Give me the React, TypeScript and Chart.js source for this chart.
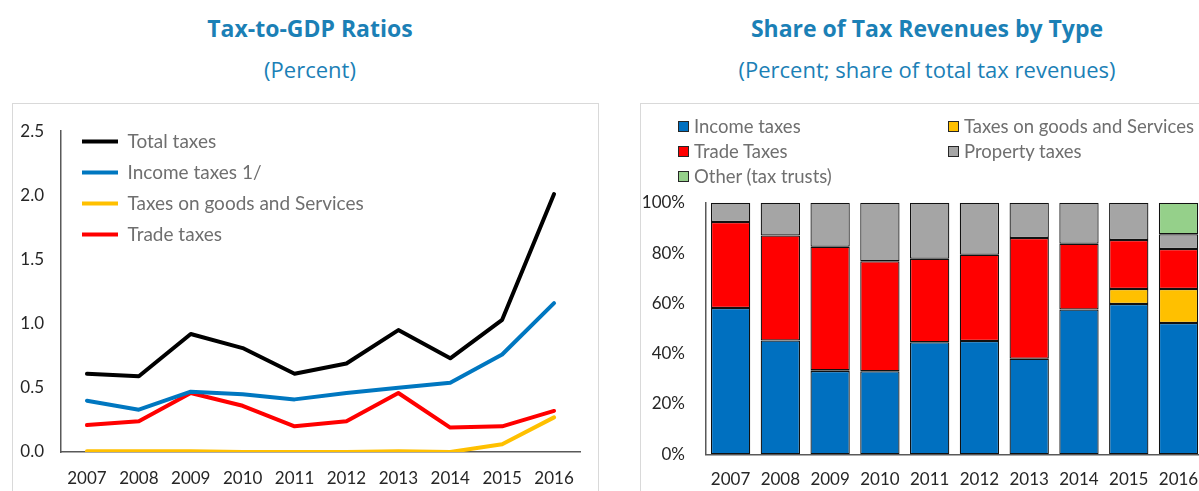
import React, { useEffect, useRef } from 'react';
import { Chart, registerables } from 'chart.js';

Chart.register(...registerables);

// ---------- data ----------
const years = ['2007', '2008', '2009', '2010', '2011', '2012', '2013', '2014', '2015', '2016'];

// Left chart: Tax-to-GDP ratios (percent)
const totalTaxes = [0.61, 0.59, 0.92, 0.81, 0.61, 0.69, 0.95, 0.73, 1.03, 2.01];
const incomeTaxesGdp = [0.40, 0.33, 0.47, 0.45, 0.41, 0.46, 0.50, 0.54, 0.76, 1.16];
const goodsTaxesGdp = [0.005, 0.005, 0.005, 0.0, 0.0, 0.0, 0.005, 0.0, 0.06, 0.27];
const tradeTaxesGdp = [0.21, 0.24, 0.46, 0.36, 0.20, 0.24, 0.46, 0.19, 0.20, 0.32];
const gdpTicks = [0, 0.5, 1.0, 1.5, 2.0, 2.5];

// Right chart: share of total tax revenues (percent)
const incomeShare = [58.1, 45.2, 33.1, 33.0, 44.5, 45.0, 38.0, 57.6, 59.7, 52.2];
const goodsShare = [0, 0, 0.3, 0, 0, 0, 0, 0, 6.0, 13.5];
const tradeShare = [34.2, 41.8, 49.1, 43.7, 33.2, 34.3, 48.0, 26.1, 19.5, 15.9];
const propertyShare = [7.7, 13.0, 17.5, 23.3, 22.3, 20.7, 14.0, 16.3, 14.8, 5.9];
const otherShare = [0, 0, 0, 0, 0, 0, 0, 0, 0, 12.5];
const shareTicks = [0, 20, 40, 60, 80, 100];

const lineLabels = ['Total taxes', 'Income taxes 1/', 'Taxes on goods and Services', 'Trade taxes'];
const lineColors = ['#000000', '#0077C0', '#FFC000', '#FF0000'];

const barLabels = ['Income taxes', 'Taxes on goods and Services', 'Trade Taxes', 'Property taxes', 'Other (tax trusts)'];
const barColors = ['#0070C0', '#FFC000', '#FF0000', '#A5A5A5', '#95D08A'];

const FONT = 'Lato, "Open Sans", "DejaVu Sans", sans-serif';
const TITLE_FONT = '"Open Sans", Lato, "DejaVu Sans", sans-serif';
const TITLE_COLOR = '#1B80B6';
const TICK_COLOR = '#262626';
const LEGEND_COLOR = '#6f6f6f';
const AXIS_COLOR = '#595959';

Chart.defaults.font.family = FONT;

const legendPlacer = (x: number, y: number) => ({
  id: 'legendPlacer',
  afterLayout(chart: any) {
    const l = chart.legend;
    if (!l) return;
    const w = l.width;
    const h = l.height;
    l.left = x;
    l.top = y;
    l.right = x + w;
    l.bottom = y + h;
  },
});

export default function App() {
  const leftRef = useRef<HTMLCanvasElement>(null);
  const rightRef = useRef<HTMLCanvasElement>(null);

  useEffect(() => {
    const lineSeries = [totalTaxes, incomeTaxesGdp, goodsTaxesGdp, tradeTaxesGdp];
    const left = new Chart(leftRef.current as HTMLCanvasElement, {
      type: 'line',
      data: {
        labels: years,
        datasets: lineSeries.map((d, i) => ({
          label: lineLabels[i],
          data: d,
          borderColor: lineColors[i],
          backgroundColor: lineColors[i],
          borderWidth: 4,
          borderCapStyle: 'round',
          borderJoinStyle: 'round',
          tension: 0,
          fill: false,
          pointRadius: 0,
          pointHoverRadius: 0,
        })),
      },
      options: {
        responsive: false,
        animation: false,
        layout: { padding: { left: 0, right: 19, top: 23.7, bottom: 0 } },
        scales: {
          x: {
            offset: true,
            grid: { display: false, drawTicks: false },
            border: { display: true, color: AXIS_COLOR, width: 1.5 },
            ticks: { padding: 16, color: TICK_COLOR, font: { size: 17 }, maxRotation: 0, autoSkip: false },
            afterFit: (s: any) => { s.height = 39; },
          },
          y: {
            min: 0,
            max: 2.5,
            grid: { display: false, drawTicks: false },
            border: { display: true, color: AXIS_COLOR, width: 1.5 },
            ticks: {
              padding: 17,
              color: TICK_COLOR,
              font: { size: 17 },
              callback: (v: any) => Number(v).toFixed(1),
            },
            afterBuildTicks: (s: any) => { s.ticks = gdpTicks.map((v) => ({ value: v })); },
            afterFit: (s: any) => { s.width = 48; },
          },
        },
        plugins: {
          legend: {
            position: 'chartArea',
            align: 'start',
            labels: {
              usePointStyle: true,
              pointStyle: 'line',
              pointStyleWidth: 36,
              padding: 12,
              color: LEGEND_COLOR,
              font: { size: 19 },
            },
          },
          tooltip: { enabled: false },
        },
      } as any,
      plugins: [legendPlacer(57, 16)],
    });

    const barSeries = [incomeShare, goodsShare, tradeShare, propertyShare, otherShare];
    const right = new Chart(rightRef.current as HTMLCanvasElement, {
      type: 'bar',
      data: {
        labels: years,
        datasets: barSeries.map((d, i) => ({
          label: barLabels[i],
          data: d,
          backgroundColor: barColors[i],
          borderColor: '#111111',
          borderWidth: 1.25,
          borderSkipped: false,
          categoryPercentage: 1,
          barPercentage: 0.79,
        })),
      },
      options: {
        responsive: false,
        animation: false,
        layout: { padding: { left: 0, right: 5.3, top: 98.7, bottom: 0 } },
        scales: {
          x: {
            stacked: true,
            grid: { display: false, drawTicks: false },
            border: { display: true, color: AXIS_COLOR, width: 1.5 },
            ticks: { padding: 15.5, color: TICK_COLOR, font: { size: 17 }, maxRotation: 0, autoSkip: false },
            afterFit: (s: any) => { s.height = 36.7; },
          },
          y: {
            stacked: true,
            min: 0,
            max: 100,
            grid: { display: false, drawTicks: false },
            border: { display: true, color: AXIS_COLOR, width: 1.5 },
            ticks: {
              padding: 20.7,
              color: TICK_COLOR,
              font: { size: 17 },
              callback: (v: any) => `${v}%`,
            },
            afterBuildTicks: (s: any) => { s.ticks = shareTicks.map((v) => ({ value: v })); },
            afterFit: (s: any) => { s.width = 64.7; },
          },
        },
        plugins: {
          legend: { display: false },
          tooltip: { enabled: false },
        },
      } as any,
    });

    return () => {
      left.destroy();
      right.destroy();
    };
  }, []);

  const titleStyle: React.CSSProperties = {
    position: 'absolute',
    width: 600,
    textAlign: 'center',
    color: TITLE_COLOR,
    fontFamily: TITLE_FONT,
    whiteSpace: 'nowrap',
  };

  return (
    <div
      style={{
        position: 'fixed',
        left: 0,
        top: 0,
        width: 1199,
        height: 491,
        overflow: 'hidden',
        background: '#ffffff',
        fontFamily: FONT,
      }}
    >
      <div style={{ ...titleStyle, left: 310 - 300, top: 14, fontSize: 23, fontWeight: 700, lineHeight: '28px' }}>
        Tax-to-GDP Ratios
      </div>
      <div style={{ ...titleStyle, left: 310 - 300, top: 55, fontSize: 22, fontWeight: 400, lineHeight: '29px' }}>
        (Percent)
      </div>
      <div style={{ ...titleStyle, left: 927 - 300, top: 14, fontSize: 23, fontWeight: 700, lineHeight: '28px' }}>
        Share of Tax Revenues by Type
      </div>
      <div style={{ ...titleStyle, left: 927 - 300, top: 55, fontSize: 22, fontWeight: 400, lineHeight: '29px' }}>
        (Percent; share of total tax revenues)
      </div>

      <div
        style={{
          position: 'absolute',
          left: 12,
          top: 103,
          width: 587,
          height: 420,
          border: '1px solid #d9d9d9',
          boxSizing: 'border-box',
        }}
      />
      <div
        style={{
          position: 'absolute',
          left: 640,
          top: 103,
          width: 575,
          height: 420,
          border: '1px solid #d9d9d9',
          boxSizing: 'border-box',
        }}
      />

      <canvas
        ref={leftRef}
        width={586}
        height={387}
        style={{ position: 'absolute', left: 13, top: 104, width: 586, height: 387 }}
      />
      <canvas
        ref={rightRef}
        width={573}
        height={387}
        style={{ position: 'absolute', left: 641, top: 104, width: 573, height: 387 }}
      />

      <div
        style={{
          position: 'absolute',
          left: 678,
          top: 113.5,
          display: 'grid',
          gridTemplateColumns: '270px 270px',
          gridAutoRows: '25px',
        }}
      >
        {barLabels.map((lab, i) => (
          <div key={lab} style={{ display: 'flex', alignItems: 'center', height: 25 }}>
            <span
              style={{
                display: 'inline-block',
                width: 11,
                height: 11,
                boxSizing: 'border-box',
                border: '1.5px solid #262626',
                background: barColors[i],
                marginRight: 5,
                flex: 'none',
              }}
            />
            <span style={{ fontSize: 18.5, color: LEGEND_COLOR, whiteSpace: 'nowrap', lineHeight: '25px' }}>{lab}</span>
          </div>
        ))}
      </div>
    </div>
  );
}
